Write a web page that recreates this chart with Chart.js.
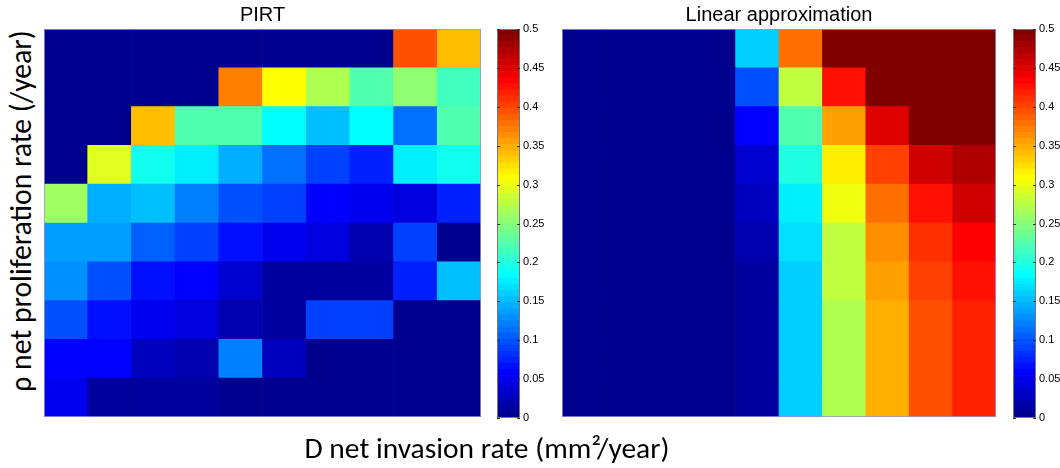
<!DOCTYPE html>
<html>
<head>
<meta charset="utf-8">
<script src="https://cdn.jsdelivr.net/npm/chart.js@4.4.0/dist/chart.umd.min.js"></script>
<style>
  body { margin: 0; background: #fff; }
  #wrap { position: relative; width: 1060px; height: 468px; overflow: hidden; }
  canvas { position: absolute; top: 0; }
  .axlabel { position: absolute; white-space: nowrap; color: #000;
             font-family: Carlito, Calibri, Lato, sans-serif; line-height: 1; }
  #ylabel { left: 22px; top: 211px; transform: translate(-50%, -50%) rotate(-90deg); }
  #xlabel { left: 487px; top: 434px; transform: translateX(-50%); }
</style>
</head>
<body>
<div id="wrap">
  <canvas id="pirtChart" width="437" height="417" style="left:44px"></canvas>
  <canvas id="pirtBar" width="60" height="468" style="left:497px"></canvas>
  <canvas id="linChart" width="434" height="417" style="left:562px"></canvas>
  <canvas id="linBar" width="47" height="468" style="left:1013px"></canvas>
  <div id="ylabel" class="axlabel">ρ net proliferation rate (/year)</div>
  <div id="xlabel" class="axlabel">D net invasion rate (mm²/year)</div>
</div>
<script>
// D columns (left to right), rho rows read top (high) to bottom (low)
const dColumns = ['1', '2', '3', '4', '5', '6', '7', '8', '9', '10'];
const colorTicks = [0, 0.05, 0.1, 0.15, 0.2, 0.25, 0.3, 0.35, 0.4, 0.45, 0.5];

// PIRT values, top row first
const pirtValues = [
    [0, 0, 0, 0, 0, 0, 0, 0, 0.40, 0.346],
    [0, 0, 0, 0, 0.375, 0.3125, 0.274, 0.229, 0.257, 0.221],
    [0, 0, 0.346, 0.229, 0.229, 0.1875, 0.156, 0.1875, 0.117, 0.229],
    [0, 0.297, 0.195, 0.18, 0.148, 0.117, 0.094, 0.078, 0.18, 0.195],
    [0.265, 0.148, 0.156, 0.125, 0.1, 0.094, 0.0625, 0.055, 0.047, 0.078],
    [0.14, 0.14, 0.109, 0.094, 0.07, 0.055, 0.047, 0.023, 0.094, 0.008],
    [0.133, 0.1, 0.07, 0.0625, 0.039, 0.016, 0.016, 0.016, 0.078, 0.156],
    [0.1, 0.07, 0.055, 0.047, 0.023, 0.016, 0.094, 0.094, 0, 0],
    [0.06, 0.0625, 0.031, 0.023, 0.125, 0.031, 0, 0, 0, 0],
    [0.055, 0.016, 0.016, 0.016, 0.008, 0, 0, 0, 0, 0]
];

// Linear approximation values, top row first
const linearValues = [
    [0, 0, 0, 0, 0.164, 0.383, 0.5, 0.5, 0.5, 0.5],
    [0, 0, 0, 0, 0.1, 0.281, 0.43, 0.5, 0.5, 0.5],
    [0, 0, 0, 0, 0.0625, 0.229, 0.36, 0.453, 0.5, 0.5],
    [0, 0, 0, 0, 0.039, 0.203, 0.32, 0.406, 0.4625, 0.48],
    [0, 0, 0, 0, 0.031, 0.18, 0.305, 0.383, 0.43, 0.4625],
    [0, 0, 0, 0, 0.023, 0.172, 0.281, 0.367, 0.414, 0.4375],
    [0, 0, 0, 0, 0.014, 0.164, 0.281, 0.36, 0.406, 0.43],
    [0, 0, 0, 0, 0.012, 0.164, 0.274, 0.35, 0.40, 0.42],
    [0, 0, 0, 0, 0.012, 0.164, 0.274, 0.35, 0.40, 0.42],
    [0, 0, 0, 0, 0.012, 0.164, 0.274, 0.35, 0.40, 0.42]
];

const colorMax = 0.5;

// Matlab style jet(64) colormap
function buildJet(n) {
    const m = Math.ceil(n / 4);
    const u = [];
    for (let i = 1; i <= m; i++) u.push(i / m);
    for (let i = 0; i < m - 1; i++) u.push(1);
    for (let i = m; i >= 1; i--) u.push(i / m);
    const g0 = Math.ceil(m / 2) - (n % 4 === 1 ? 1 : 0);
    const map = [];
    for (let i = 0; i < n; i++) map.push([0, 0, 0]);
    u.forEach((val, j) => {
        const g = g0 + j + 1, r = g + m, b = g - m;
        if (r >= 1 && r <= n) map[r - 1][0] = val;
        if (g >= 1 && g <= n) map[g - 1][1] = val;
        if (b >= 1 && b <= n) map[b - 1][2] = val;
    });
    return map.map(c => `rgb(${Math.round(c[0] * 255)},${Math.round(c[1] * 255)},${Math.round(c[2] * 255)})`);
}
const jet = buildJet(64);

function jetColor(v) {
    let k = Math.round(v / colorMax * 64);
    k = Math.min(64, Math.max(1, k));
    return jet[k - 1];
}

Chart.defaults.font.family = '"Liberation Sans", Arial, sans-serif';
Chart.defaults.color = '#000';

// thin frame round the plot area
const framePlugin = {
    id: 'frame',
    afterDatasetsDraw(chart, args, opts) {
        const { ctx, chartArea: a } = chart;
        ctx.save();
        ctx.strokeStyle = opts.color || '#9a9ac8';
        ctx.lineWidth = 1;
        ctx.strokeRect(a.left + 0.5, a.top + 0.5, a.right - a.left - 1, a.bottom - a.top - 1);
        if (opts.ticks) {
            const y = chart.scales.y;
            ctx.strokeStyle = '#333';
            y.ticks.forEach(t => {
                const py = Math.round(y.getPixelForValue(t.value)) + 0.5;
                ctx.beginPath();
                ctx.moveTo(a.left, py); ctx.lineTo(a.left + 3, py);
                ctx.moveTo(a.right - 3, py); ctx.lineTo(a.right, py);
                ctx.stroke();
            });
        }
        ctx.restore();
    }
};

function renderHeatmap(id, title, values) {
    // stacked bars: one dataset per rho row, bottom row first
    const datasets = values.slice().reverse().map((row, i) => ({
        label: 'row ' + (i + 1),
        data: row.map(() => 1),
        backgroundColor: row.map(v => jetColor(v)),
        borderWidth: 0,
        barPercentage: 1,
        categoryPercentage: 1
    }));
    new Chart(document.getElementById(id), {
        type: 'bar',
        data: { labels: dColumns, datasets: datasets },
        options: {
            responsive: false,
            animation: false,
            events: [],
            layout: { padding: 0 },
            plugins: {
                legend: { display: false },
                tooltip: { enabled: false },
                title: {
                    display: true,
                    text: title,
                    font: { size: 20, weight: 'normal' },
                    padding: { top: 3, bottom: 2 }
                },
                frame: { color: 'rgba(150,150,210,0.8)' }
            },
            scales: {
                x: { stacked: true, display: false },
                y: { stacked: true, display: false, min: 0, max: 10 }
            }
        },
        plugins: [framePlugin]
    });
}

function renderColorbar(id, axisWidth) {
    const step = colorMax / jet.length;
    const datasets = jet.map((c, i) => ({
        label: 'c' + i,
        data: [step],
        backgroundColor: c,
        borderWidth: 0,
        barPercentage: 1,
        categoryPercentage: 1
    }));
    new Chart(document.getElementById(id), {
        type: 'bar',
        data: { labels: ['scale'], datasets: datasets },
        options: {
            responsive: false,
            animation: false,
            events: [],
            layout: { padding: { top: 29, bottom: 50, left: 0, right: 0 } },
            plugins: {
                legend: { display: false },
                tooltip: { enabled: false },
                frame: { color: '#777', ticks: true }
            },
            scales: {
                x: { stacked: true, display: false },
                y: {
                    stacked: true,
                    position: 'right',
                    min: 0,
                    max: colorMax,
                    afterBuildTicks: scale => { scale.ticks = colorTicks.map(v => ({ value: v })); },
                    afterFit: scale => { scale.width = axisWidth; },
                    grid: { display: false, drawTicks: false },
                    border: { display: false },
                    ticks: {
                        padding: 3,
                        font: { size: 11 },
                        callback: v => String(+v.toFixed(2))
                    }
                }
            }
        },
        plugins: [framePlugin]
    });
}

// size the axis labels so they span as much as in the figure
function fitText(id, targetWidth) {
    const el = document.getElementById(id);
    const ctx = document.createElement('canvas').getContext('2d');
    const family = getComputedStyle(el).fontFamily;
    ctx.font = '100px ' + family;
    const w = ctx.measureText(el.textContent).width;
    el.style.fontSize = (100 * targetWidth / w).toFixed(1) + 'px';
}

renderHeatmap('pirtChart', 'PIRT', pirtValues);
renderHeatmap('linChart', 'Linear approximation', linearValues);
renderColorbar('pirtBar', 37);
renderColorbar('linBar', 24);
fitText('ylabel', 362);
fitText('xlabel', 365);
</script>
</body>
</html>
